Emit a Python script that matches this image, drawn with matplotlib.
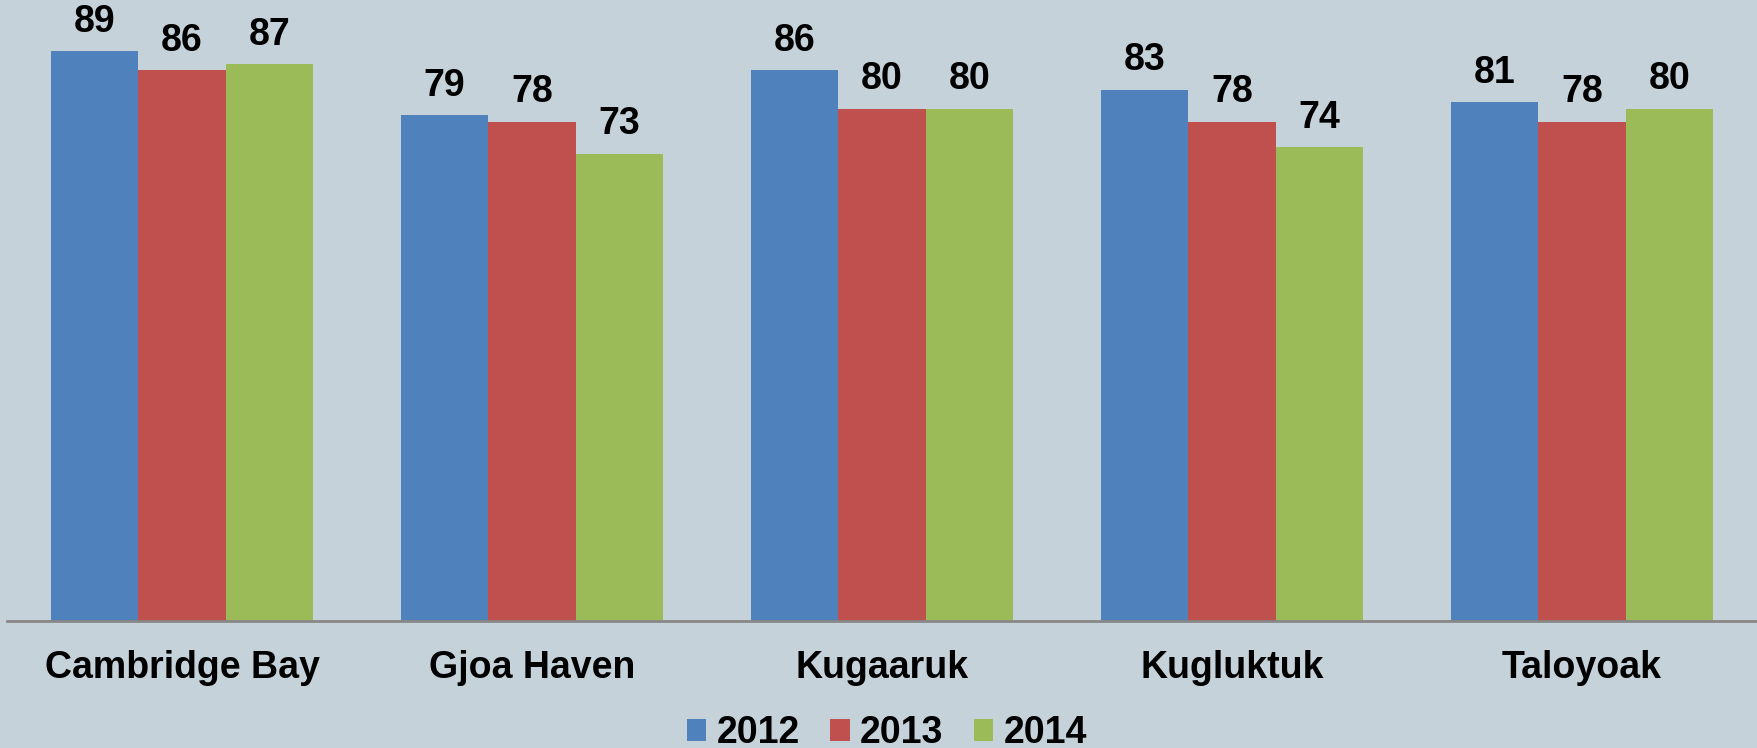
import matplotlib
matplotlib.use("Agg")
import matplotlib.pyplot as plt
import numpy as np

communities = ["Cambridge Bay", "Gjoa Haven", "Kugaaruk", "Kugluktuk", "Taloyoak"]
years = ["2012", "2013", "2014"]
values_2012 = [89, 79, 86, 83, 81]
values_2013 = [86, 78, 80, 78, 78]
values_2014 = [87, 73, 80, 74, 80]

colors = ["#4F81BD", "#C0504D", "#9BBB59"]
bg = "#C6D2D9"

plt.rcParams["font.family"] = ["Liberation Sans", "DejaVu Sans"]
plt.rcParams["font.weight"] = "bold"

fig = plt.figure(figsize=(17.58, 7.48), dpi=100, facecolor=bg)
ax = fig.add_axes([7 / 1758, 1 - 621 / 748, 1750 / 1758, 621 / 748])
ax.set_facecolor(bg)

x = np.arange(len(communities))
width = 0.25
series = [values_2012, values_2013, values_2014]
for i, (vals, year) in enumerate(zip(series, years)):
    bars = ax.bar(x + (i - 1) * width, vals, width, color=colors[i], label=year,
                  edgecolor="none")
    for b, v in zip(bars, vals):
        ax.annotate(str(v), (b.get_x() + b.get_width() / 2, v),
                    xytext=(0, 14), textcoords="offset points",
                    ha="center", va="baseline", fontsize=27, fontweight="bold")

ax.set_xlim(-0.5, len(communities) - 0.5)
ax.set_ylim(0, 97)
ax.set_xticks(x)
ax.set_xticklabels(communities, fontsize=27, fontweight="bold")
ax.tick_params(axis="x", length=0, pad=21)
ax.set_yticks([])
for side in ["top", "left", "right"]:
    ax.spines[side].set_visible(False)
ax.spines["bottom"].set_color("#888888")
ax.spines["bottom"].set_linewidth(2)

fig.legend(loc="center", bbox_to_anchor=(887 / 1758, 1 - 733 / 748), ncol=3,
           frameon=False, fontsize=27, handlelength=0.52, handleheight=0.52,
           handletextpad=0.28, columnspacing=0.8, borderpad=0, borderaxespad=0)

fig.savefig("out.png", dpi=100, facecolor=bg)
